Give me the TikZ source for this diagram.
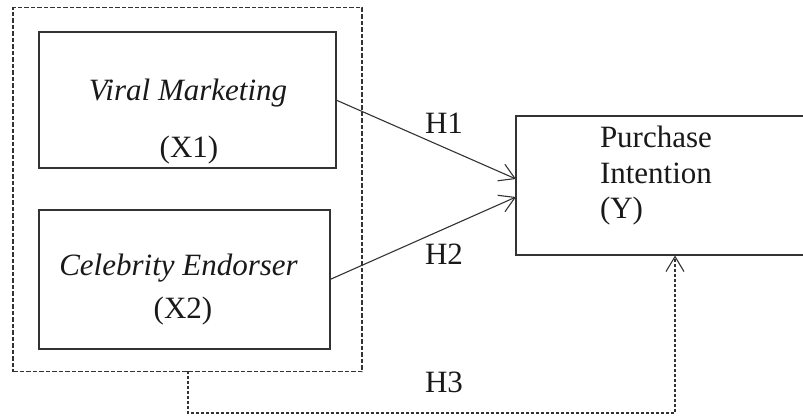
\documentclass[tikz,border=0pt]{standalone}
\usepackage{fontspec}
\setmainfont{Liberation Serif}
\usetikzlibrary{arrows.meta}
\begin{document}
\begin{tikzpicture}[x=1pt,y=-1pt,
  every node/.style={inner sep=0pt,outer sep=0pt},
  lbl/.style={anchor=base,font=\fontsize{31}{36}\selectfont,text=black!90},
  lblw/.style={anchor=base west,font=\fontsize{31}{36}\selectfont,text=black!90},
  boxx/.style={draw=black!80,line width=1.1pt,rectangle},
  conn/.style={draw=black!80,line width=1.1pt,-{Straight Barb[length=15pt,width=18pt,line width=1.1pt]}},
  dconn/.style={draw=black!80,line width=1.1pt,dash pattern=on 3pt off 2pt,-{Straight Barb[length=15pt,width=18pt,line width=1.1pt]}},
  dbox/.style={draw=black!80,line width=1.3pt,dash pattern=on 4.5pt off 2pt}]
\clip (0,0) rectangle (803,418);
\fill[white] (0,0) rectangle (803,418);
% outer dashed group box
\node[dbox,minimum width=349pt,minimum height=364pt] (grp) at (187.5,189.5) {};
% X1 box
\node[boxx,minimum width=297pt,minimum height=136pt] (x1) at (187.5,100) {};
% X2 box
\node[boxx,minimum width=291pt,minimum height=139pt] (x2) at (184.5,279.5) {};
% Y box (right side runs past the edge)
\node[boxx,minimum width=310pt,minimum height=139pt] (ybox) at (671,185.5) {};
% texts
\node[lbl] (t1) at (188,100) {\itshape Viral Marketing};
\node[lbl] (t1b) at (189,157) {(X1)};
\node[lbl] (t2) at (178.5,275) {\itshape Celebrity Endorser};
\node[lbl] (t2b) at (183,318) {(X2)};
\node[lblw] (yt1) at (600,147) {Purchase};
\node[lblw] (yt2) at (600,183) {Intention};
\node[lblw] (yt3) at (600,218) {(Y)};
\node[lbl] (h1) at (444,133) {H1};
\node[lbl] (h2) at (444,264) {H2};
\node[lbl] (h3) at (444,392) {H3};
% connectors
\coordinate (e1) at (516,179);
\coordinate (e2) at (516,197);
\draw[conn] (x1.east) -- (e1);
\draw[conn] (x2.east) -- (e2);
\coordinate (s3) at (188,371);
\coordinate (c3) at (188,413);
\coordinate (d3) at (675,413);
\coordinate (f3) at (675,255.5);
\draw[dconn] (s3) -- (c3) -- (d3) -- (f3);
\end{tikzpicture}
\end{document}
